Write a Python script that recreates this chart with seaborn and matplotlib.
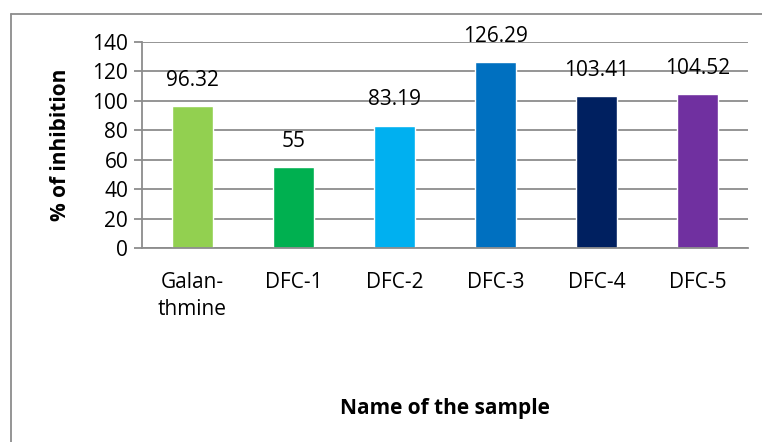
import seaborn as sns
import matplotlib.pyplot as plt
import pandas as pd
from matplotlib.lines import Line2D

samples = ['Galan-\nthmine', 'DFC-1', 'DFC-2', 'DFC-3', 'DFC-4', 'DFC-5']
inhibition = [96.32, 55, 83.19, 126.29, 103.41, 104.52]
labels = ['96.32', '55', '83.19', '126.29', '103.41', '104.52']
colors = ['#92D050', '#00B050', '#00B0F0', '#0070C0', '#002060', '#7030A0']

df = pd.DataFrame({'sample': samples, 'inhibition': inhibition})

sns.set_style("white")
plt.rcParams['font.family'] = ['Open Sans', 'DejaVu Sans']
plt.rcParams['text.color'] = 'black'
plt.rcParams['xtick.color'] = 'black'
plt.rcParams['ytick.color'] = 'black'
plt.rcParams['axes.labelcolor'] = 'black'

fig = plt.figure(figsize=(7.62, 4.42), dpi=100)
ax = fig.add_axes([0.1864, 0.4389, 0.7952, 0.4661])

sns.barplot(data=df, x='sample', y='inhibition', hue='sample', palette=colors,
            legend=False, width=0.41, saturation=1, ax=ax)

ax.set_ylim(0, 140)
ax.set_yticks(range(0, 141, 20))
ax.yaxis.grid(True, color='#8c8c8c', linewidth=1.3)
ax.set_axisbelow(True)
for s in ['top', 'right']:
    ax.spines[s].set_visible(False)
for s in ['left', 'bottom']:
    ax.spines[s].set_color('#8c8c8c')
    ax.spines[s].set_linewidth(1.3)
ax.tick_params(axis='y', left=True, length=6, width=1.3, color='#8c8c8c',
               labelcolor='black', labelsize=15, pad=4)
ax.tick_params(axis='x', bottom=False, labelsize=15, pad=14)
for t in ax.get_xticklabels():
    t.set_linespacing(1.35)

for cont, lab in zip(ax.containers, labels):
    ax.bar_label(cont, labels=[lab], padding=11, fontsize=15)

ax.set_xlabel('Name of the sample', fontsize=15, fontweight='bold', labelpad=56)
ax.set_ylabel('% of inhibition', fontsize=15, fontweight='bold', labelpad=15)

fig.add_artist(Line2D([0.0144, 0.0144], [0, 0.968], color='#8c8c8c', linewidth=1.3))
fig.add_artist(Line2D([0.0144, 1], [0.968, 0.968], color='#8c8c8c', linewidth=1.3))

fig.savefig('out.png', dpi=100)
